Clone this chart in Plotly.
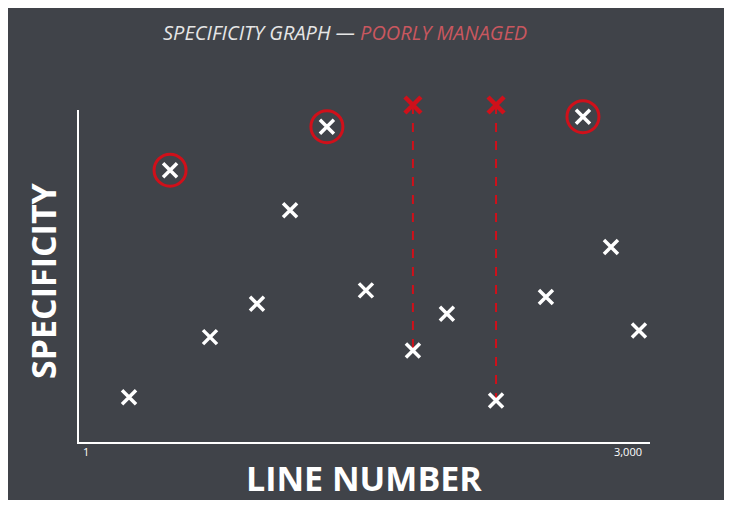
import plotly.graph_objects as go

line_no = [239, 466, 687, 947, 1130, 1334, 1550, 1810, 1998, 2270, 2546, 2751, 2906, 3061]
spec    = [1.4, 8.2, 3.2, 4.2, 7.0, 9.5, 4.6, 2.8, 3.9, 1.3, 4.4, 9.8, 5.9, 3.4]
circled_x = [466, 1334, 2751]
circled_y = [8.2, 9.5, 9.8]
bad_x = [1810, 2270]
bad_top = [10.15, 10.15]
bad_bottom = [2.8, 1.3]

BG = "#404349"
RED = "#d0101a"
OFF = 8
W, H = 732 - 2 * OFF, 508 - 2 * OFF
pl, pr, pt, pb = 77 - OFF, 82 - OFF, 90 - OFF, 64 - OFF
pw, ph = W - pl - pr, H - pt - pb

def px(xp):
    return (xp - OFF - pl) / pw

def py(yp):
    return (H - pb - (yp - OFF)) / ph

fig = go.Figure()
for bx, bt, bb in zip(bad_x, bad_top, bad_bottom):
    fig.add_trace(go.Scatter(x=[bx, bx], y=[bt, bb], mode="lines",
                             line=dict(color=RED, width=2, dash="dash"), hoverinfo="skip"))
fig.add_trace(go.Scatter(x=circled_x, y=circled_y, mode="markers",
                         marker=dict(symbol="circle-open", size=32, line=dict(color=RED, width=3), color=RED)))
fig.add_trace(go.Scatter(x=line_no, y=spec, mode="markers",
                         marker=dict(symbol="x-thin", size=14, line=dict(color="white", width=3.5))))
fig.add_trace(go.Scatter(x=bad_x, y=bad_top, mode="markers",
                         marker=dict(symbol="x-thin", size=16, line=dict(color=RED, width=4.5))))

xmin, xmax = -49, 3122
fig.add_shape(type="line", x0=xmin, x1=xmax, y0=0, y1=0, line=dict(color="white", width=4))
fig.add_shape(type="line", x0=xmin, x1=xmin, y0=0, y1=10, line=dict(color="white", width=4))

fig.update_layout(
    width=W, height=H, paper_bgcolor=BG, plot_bgcolor=BG, showlegend=False,
    margin=dict(l=pl, r=pr, t=pt, b=pb),
    xaxis=dict(range=[xmin, xmax], showgrid=False, zeroline=False, showline=False,
               tickvals=[1, 3000], ticktext=["1", "3,000"], ticks="",
               tickfont=dict(color="white", size=11, family="Open Sans")),
    yaxis=dict(range=[0, 10.6], showgrid=False, zeroline=False, showline=False, showticklabels=False),
    annotations=[
        dict(text="<i>SPECIFICITY GRAPH — <span style='color:#c9575f'>POORLY MANAGED</span></i>",
             x=px(345), y=py(32), xref="paper", yref="paper", showarrow=False,
             font=dict(color="#e6e6e6", size=20, family="Open Sans"), xanchor="center", yanchor="middle"),
        dict(text="<b>LINE NUMBER</b>", x=px(364), y=py(478), xref="paper", yref="paper", showarrow=False,
             font=dict(color="white", size=34, family="Open Sans"), xanchor="center", yanchor="middle"),
        dict(text="<b>SPECIFICITY</b>", x=px(43), y=py(281), xref="paper", yref="paper", showarrow=False,
             textangle=-90,
             font=dict(color="white", size=34, family="Open Sans"), xanchor="center", yanchor="middle"),
    ],
)
fig.write_html("out.html")
